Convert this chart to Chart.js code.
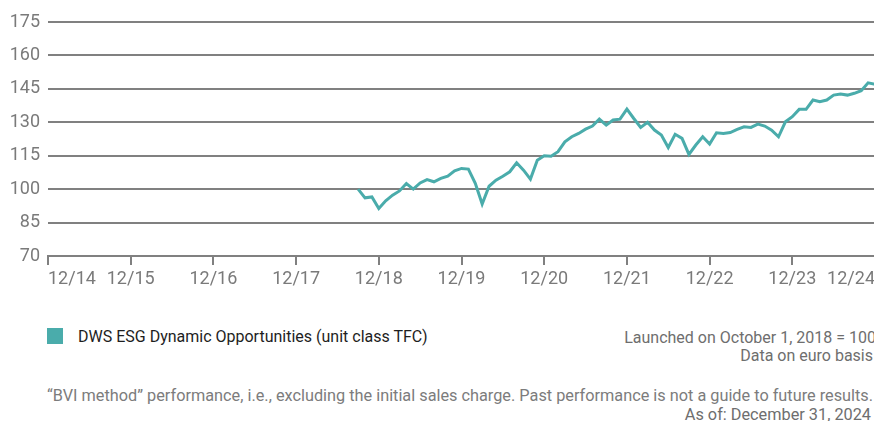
<!DOCTYPE html>
<html>
<head>
<meta charset="utf-8">
<script src="https://cdn.jsdelivr.net/npm/chart.js@4/dist/chart.umd.min.js"></script>
<style>
  html, body { margin: 0; padding: 0; background: #fff; }
  #wrap { position: relative; width: 874px; height: 421px; overflow: hidden; font-family: Roboto, "Noto Sans", sans-serif; }
  #chartBox { position: absolute; left: 0; top: 0; width: 879px; height: 300px; }
  .txt { position: absolute; white-space: nowrap; }
  #legSq { position: absolute; left: 47px; top: 328px; width: 16px; height: 16px; background: #4aacab; }
  #legTxt { left: 78px; top: 327px; font-size: 16px; color: #1e1e1e; }
  #noteA { right: -2px; top: 328px; font-size: 16px; color: #6e6e6e; text-align: right; }
  #noteB { right: 1px; top: 346px; font-size: 16px; color: #6e6e6e; text-align: right; }
  #foot1 { left: 47px; top: 386px; font-size: 16.3px; color: #7c7c7c; }
  #foot2 { right: 3px; top: 405px; font-size: 16.3px; color: #6e6e6e; text-align: right; }
</style>
</head>
<body>
<div id="wrap">
  <div id="chartBox"><canvas id="c" width="879" height="300"></canvas></div>
  <div id="legSq"></div>
  <div class="txt" id="legTxt">DWS ESG Dynamic Opportunities (unit class TFC)</div>
  <div class="txt" id="noteA">Launched on October 1, 2018 = 100</div>
  <div class="txt" id="noteB">Data on euro basis</div>
  <div class="txt" id="foot1">“BVI method” performance, i.e., excluding the initial sales charge. Past performance is not a guide to future results.</div>
  <div class="txt" id="foot2">As of: December 31, 2024</div>
</div>
<script>
// Month-end dates (YYYY-MM) of the series
const months = [
  "2018-09","2018-10","2018-11","2018-12",
  "2019-01","2019-02","2019-03","2019-04","2019-05","2019-06","2019-07","2019-08","2019-09","2019-10","2019-11","2019-12",
  "2020-01","2020-02","2020-03","2020-04","2020-05","2020-06","2020-07","2020-08","2020-09","2020-10","2020-11","2020-12",
  "2021-01","2021-02","2021-03","2021-04","2021-05","2021-06","2021-07","2021-08","2021-09","2021-10","2021-11","2021-12",
  "2022-01","2022-02","2022-03","2022-04","2022-05","2022-06","2022-07","2022-08","2022-09","2022-10","2022-11","2022-12",
  "2023-01","2023-02","2023-03","2023-04","2023-05","2023-06","2023-07","2023-08","2023-09","2023-10","2023-11","2023-12",
  "2024-01","2024-02","2024-03","2024-04","2024-05","2024-06","2024-07","2024-08","2024-09","2024-10","2024-11","2024-12"
];
// Indexed fund values (launch = 100)
const fundValues = [
  100, 96.1, 96.5, 91.3,
  94.8, 97.3, 99.2, 102.5, 100.0, 102.8, 104.3, 103.3, 104.8, 105.8, 108.2, 109.3,
  109.0, 102.6, 93.3, 101.3, 104.0, 105.8, 107.8, 111.8, 108.5, 104.5, 113.0, 115.0,
  114.8, 116.8, 121.2, 123.5, 125.0, 126.9, 128.3, 131.4, 128.7, 131.0, 131.4, 135.9,
  131.7, 127.7, 130.0, 126.5, 124.3, 118.7, 124.6, 122.8, 115.6, 119.8, 123.5, 120.2,
  125.3, 125.0, 125.4, 126.8, 128.0, 127.7, 129.2, 128.3, 126.5, 123.5, 130.2, 132.5,
  135.8, 135.8, 140.0, 139.2, 140.0, 142.2, 142.7, 142.2, 143.0, 144.2, 147.7, 147.1
];
const xTickLabels = ["12/14","12/15","12/16","12/17","12/18","12/19","12/20","12/21","12/22","12/23","12/24"];
const yTicks = [70, 85, 100, 115, 130, 145, 160, 175];
const seriesName = "DWS ESG Dynamic Opportunities (unit class TFC)";

// months since Dec 2014
function monthIndex(s) {
  const [y, m] = s.split("-").map(Number);
  return (y - 2014) * 12 + (m - 12);
}
const points = months.map((m, i) => ({ x: monthIndex(m), y: fundValues[i] }));

const gridGray = "#808080";
const labelGray = "#7a7a7a";

new Chart(document.getElementById("c"), {
  type: "line",
  data: {
    datasets: [{
      label: seriesName,
      data: points,
      borderColor: "#4aacab",
      backgroundColor: "#4aacab",
      borderWidth: 3,
      pointRadius: 0,
      tension: 0,
      fill: false
    }]
  },
  options: {
    responsive: false,
    devicePixelRatio: 1,
    animation: false,
    layout: { padding: { top: 22, right: 0, left: 0, bottom: 0 } },
    plugins: { legend: { display: false }, tooltip: { enabled: false } },
    scales: {
      x: {
        type: "linear",
        min: 0,
        max: 120,
        afterBuildTicks: (scale) => { scale.ticks = xTickLabels.map((_, i) => ({ value: i * 12 })); },
        ticks: {
          align: "inner",
          autoSkip: false,
          maxRotation: 0,
          padding: 4,
          color: labelGray,
          font: { family: "Roboto", size: 18 },
          callback: (v) => xTickLabels[Math.round(v / 12)]
        },
        grid: { drawOnChartArea: false, drawTicks: true, tickLength: 9, color: gridGray, lineWidth: 2 },
        border: { display: true, color: gridGray, width: 2 },
        afterFit: (s) => { s.height = 44; }
      },
      y: {
        min: 70,
        max: 175,
        afterBuildTicks: (scale) => { scale.ticks = yTicks.map(v => ({ value: v })); },
        ticks: {
          padding: 8,
          color: labelGray,
          font: { family: "Roboto", size: 18 }
        },
        grid: { drawTicks: false, color: gridGray, lineWidth: 2 },
        border: { display: false },
        afterFit: (s) => { s.width = 48; }
      }
    }
  }
});
</script>
</body>
</html>
